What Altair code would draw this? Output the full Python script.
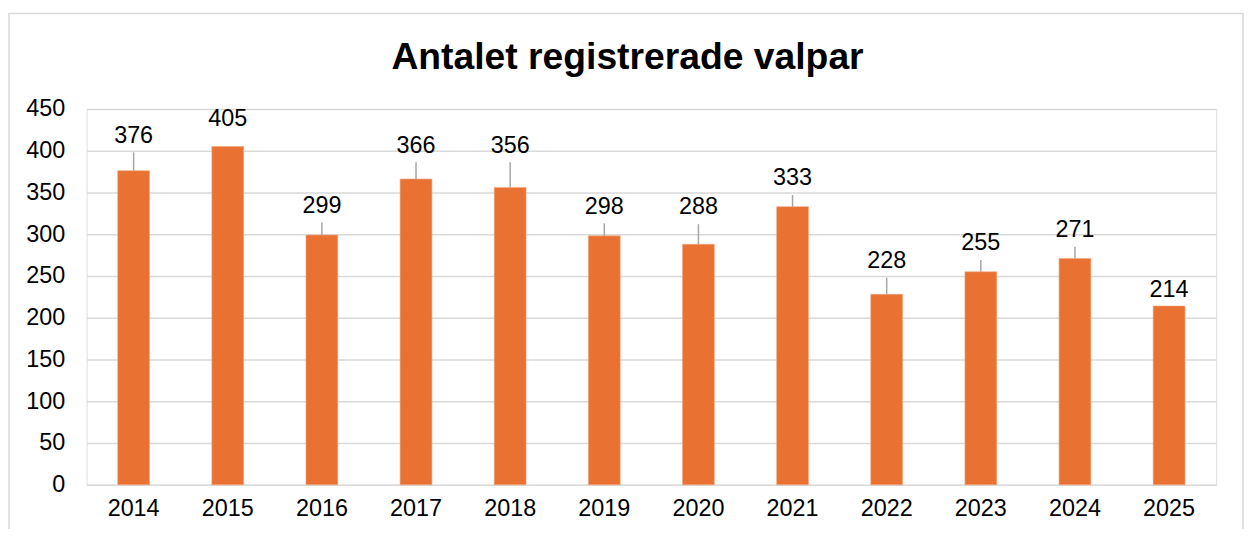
import altair as alt
import pandas as pd

years = ["2014", "2015", "2016", "2017", "2018", "2019",
         "2020", "2021", "2022", "2023", "2024", "2025"]
values = [376, 405, 299, 366, 356, 298, 288, 333, 228, 255, 271, 214]
# heights (in data units) of the callout labels
label_pos = [418, 438, 334, 406, 406, 333, 332, 367, 268, 289, 305, 233]
has_leader = [True, False, True, True, True, True, True, True, True, True, True, False]

df = pd.DataFrame({
    "year": years,
    "value": values,
    "label_pos": label_pos,
    "leader": has_leader,
})

FONT = "Liberation Sans"
ORANGE = "#E97132"
GRID = "#D9D9D9"
FS = 23.5

x_enc = alt.X("year:N", sort=years,
              scale=alt.Scale(paddingInner=0.662, paddingOuter=0.331),
              axis=alt.Axis(title=None, labelAngle=0, domain=False, ticks=False,
                            labelPadding=12, labelFontSize=FS, labelFont=FONT,
                            labelColor="#000000"))
y_scale = alt.Scale(domain=[0, 450])

base = alt.Chart(df)

bars = base.mark_bar(color=ORANGE, stroke="#F2A57E", strokeWidth=0.6).encode(
    x=x_enc,
    y=alt.Y("value:Q", scale=y_scale,
            axis=alt.Axis(title=None, values=list(range(0, 451, 50)),
                          domain=False, ticks=False, labelPadding=22,
                          labelFontSize=FS, labelFont=FONT, labelColor="#000000",
                          grid=True, gridColor=GRID, gridWidth=1.5)),
)

leaders = base.transform_filter("datum.leader").transform_calculate(
    top="datum.label_pos - 20"
).mark_rule(color="#A6A6A6", strokeWidth=1.5).encode(
    x=alt.X("year:N", sort=years),
    y=alt.Y("value:Q", scale=y_scale),
    y2="top:Q",
)

labels = base.mark_text(font=FONT, fontSize=FS, color="#000000",
                        baseline="middle", align="center").encode(
    x=alt.X("year:N", sort=years),
    y=alt.Y("label_pos:Q", scale=y_scale),
    text="value:Q",
)

border = alt.Chart(pd.DataFrame({"a": [0]})).mark_rect(
    filled=False, stroke=GRID, strokeWidth=1.5, clip=False
).encode(
    x=alt.value(-78), x2=alt.value(1163),
    y=alt.value(-96), y2=alt.value(450),
)

chart = alt.layer(border, bars, leaders, labels).properties(
    width=1136,
    height=378,
    title=alt.TitleParams("Antalet registrerade valpar", font=FONT, fontSize=37.5,
                          fontWeight="bold", color="#000000", anchor="middle",
                          dx=-24, offset=-64),
    autosize=alt.AutoSizeParams(type="none"),
    padding={"left": 79, "top": 100, "right": 28, "bottom": 43},
).configure_view(stroke=None).configure(background="white")

chart.save("out.html", embed_options={"renderer": "svg", "actions": False})
